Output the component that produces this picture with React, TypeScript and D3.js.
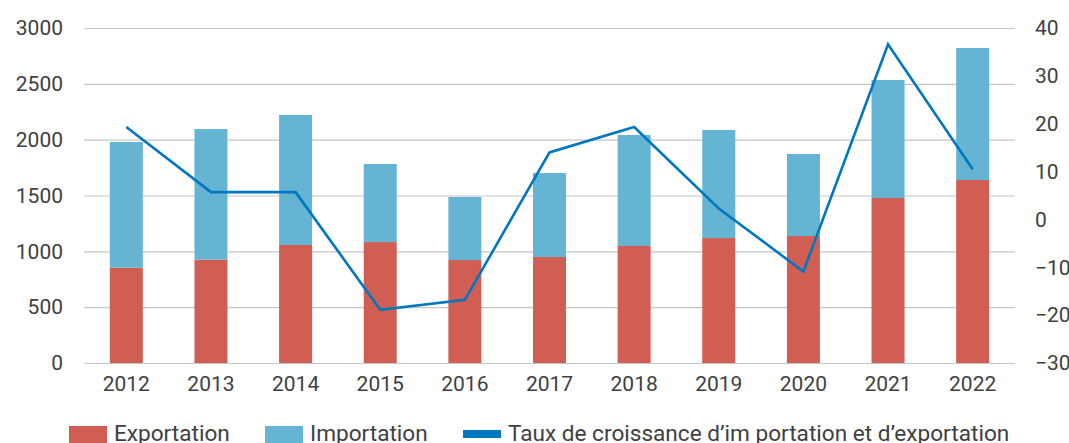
import React, { useRef, useEffect } from 'react';
import * as d3 from 'd3';

const years = ['2012', '2013', '2014', '2015', '2016', '2017', '2018', '2019', '2020', '2021', '2022'];
const exportation = [853, 925, 1057, 1083, 922, 949, 1048, 1119, 1137, 1478, 1639];
const importation = [1126, 1170, 1164, 699, 565, 752, 994, 968, 735, 1056, 1182];
const croissance = [19.3, 5.7, 5.7, -18.9, -16.8, 14.0, 19.3, 2.3, -10.9, 36.6, 10.5];
const leftTicks = [0, 500, 1000, 1500, 2000, 2500, 3000];
const rightTicks = [-30, -20, -10, 0, 10, 20, 30, 40];
const legendLabels = ['Exportation', 'Importation', 'Taux de croissance d\u2019im portation et d\u2019exportation'];

const W = 1069;
const H = 443;
const margin = { top: 28, right: 54, bottom: 80, left: 84 };

const App = () => {
  const svgRef = useRef<SVGSVGElement>(null);

  useEffect(() => {
    if (!svgRef.current) return;
    const root = d3.select(svgRef.current);
    root.selectAll('*').remove();

    const innerW = W - margin.left - margin.right;
    const innerH = H - margin.top - margin.bottom;
    const font = 'Roboto, sans-serif';
    const textColor = '#404040';

    const g = root.append('g').attr('transform', `translate(${margin.left},${margin.top})`);

    const x = d3.scaleBand().domain(years).range([0, innerW]).paddingInner(0.61).paddingOuter(0.305);
    const yL = d3.scaleLinear().domain([0, 3000]).range([innerH, 0]);
    const yR = d3.scaleLinear().domain([-30, 40]).range([innerH, 0]);

    // grid lines
    g.append('g')
      .call(d3.axisLeft(yL).tickValues(leftTicks).tickSize(-innerW).tickFormat(() => ''))
      .call(s => s.select('.domain').remove())
      .selectAll('line')
      .attr('stroke', '#c6c6c6')
      .attr('stroke-width', 1.2);

    // left labels
    g.append('g')
      .call(d3.axisLeft(yL).tickValues(leftTicks).tickSize(0).tickPadding(21).tickFormat(d3.format('d')))
      .call(s => s.select('.domain').remove())
      .selectAll('text')
      .attr('fill', textColor)
      .attr('font-family', font)
      .attr('font-size', 21);

    // right labels
    g.append('g')
      .attr('transform', `translate(${innerW},0)`)
      .call(d3.axisRight(yR).tickValues(rightTicks).tickSize(0).tickPadding(20).tickFormat(d3.format('d')))
      .call(s => s.select('.domain').remove())
      .selectAll('text')
      .attr('fill', textColor)
      .attr('font-family', font)
      .attr('font-size', 21);

    // x labels
    g.append('g')
      .attr('transform', `translate(0,${innerH})`)
      .call(d3.axisBottom(x).tickSize(0).tickPadding(13))
      .call(s => s.select('.domain').remove())
      .selectAll('text')
      .attr('fill', textColor)
      .attr('font-family', font)
      .attr('font-size', 21);

    // stacked bars
    const stackData = years.map((yr, i) => ({ year: yr, exp: exportation[i], imp: importation[i] }));
    const series = d3.stack<any>().keys(['exp', 'imp'])(stackData);
    const colors: Record<string, string> = { exp: '#d15e53', imp: '#65b4d3' };

    g.selectAll('.layer')
      .data(series)
      .enter()
      .append('g')
      .attr('fill', d => colors[d.key])
      .selectAll('rect')
      .data(d => d)
      .enter()
      .append('rect')
      .attr('x', d => x(d.data.year)!)
      .attr('width', x.bandwidth())
      .attr('y', d => yL(d[1]))
      .attr('height', d => yL(d[0]) - yL(d[1]));

    // growth line
    const line = d3.line<number>()
      .x((_, i) => x(years[i])! + x.bandwidth() / 2)
      .y(d => yR(d));

    g.append('path')
      .datum(croissance)
      .attr('fill', 'none')
      .attr('stroke', '#0077be')
      .attr('stroke-width', 2.6)
      .attr('stroke-linejoin', 'miter')
      .attr('d', line);

    // legend
    const legend = root.append('g').attr('font-family', font).attr('font-size', 22.6).attr('fill', textColor);
    const items = [
      { x: 69, color: '#d15e53', h: 17, y: 426 },
      { x: 265, color: '#65b4d3', h: 17, y: 426 },
      { x: 463, color: '#0077be', h: 8, y: 430 },
    ];
    items.forEach((it, i) => {
      legend.append('rect')
        .attr('x', it.x)
        .attr('y', it.y)
        .attr('width', 38)
        .attr('height', it.h)
        .attr('fill', it.color);
      legend.append('text')
        .attr('x', it.x + 45)
        .attr('y', 441)
        .text(legendLabels[i]);
    });
  }, []);

  return <svg ref={svgRef} width={W} height={H} style={{ position: 'absolute', left: 0, top: 0 }} />;
};

export default App;
